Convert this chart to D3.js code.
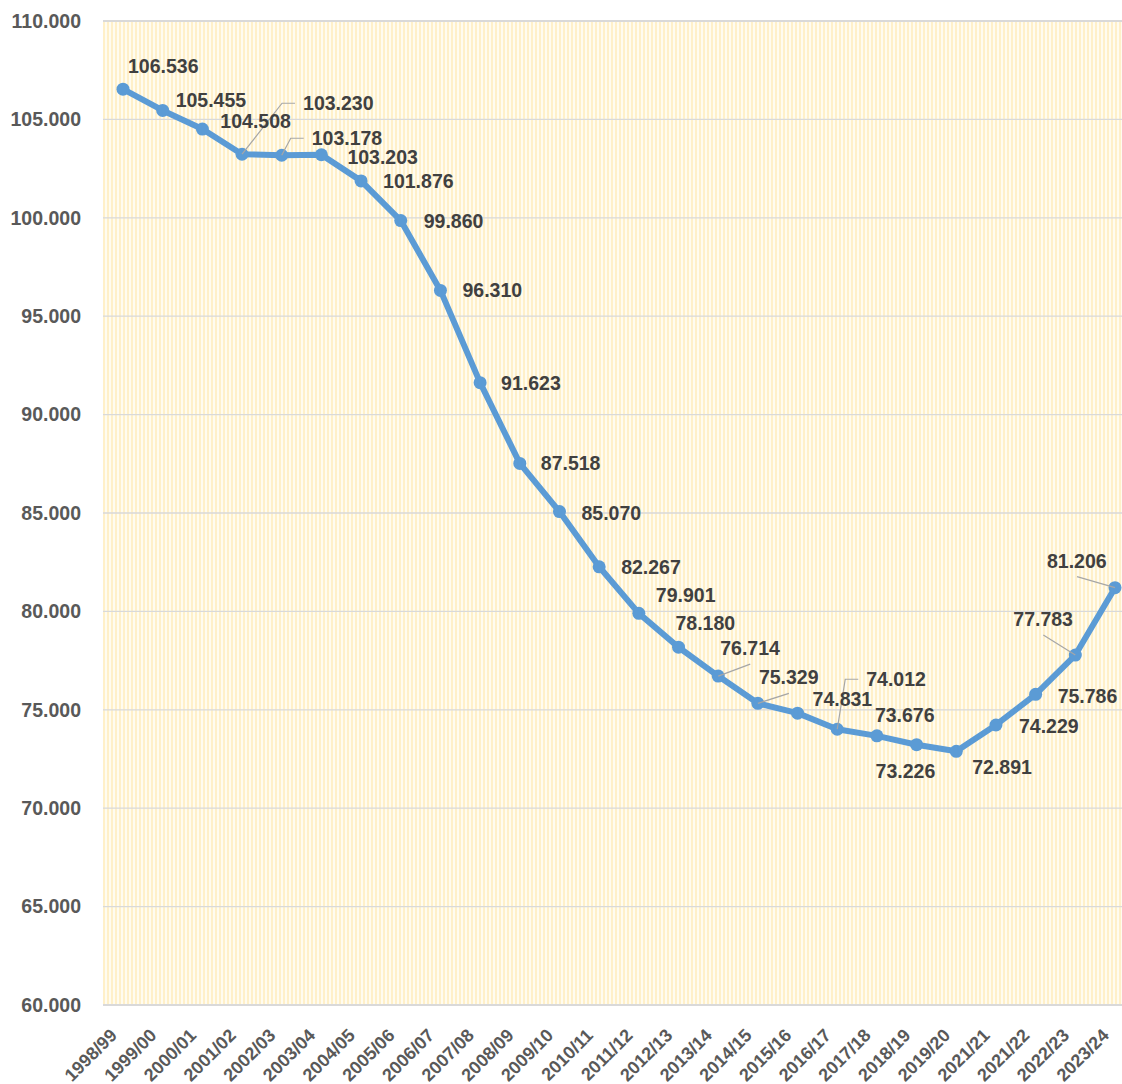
<!DOCTYPE html>
<html>
<head>
<meta charset="utf-8">
<script src="https://cdn.jsdelivr.net/npm/d3@7"></script>
<style>
  body { margin: 0; background: #fff; }
  text { font-family: "Liberation Sans", Arial, sans-serif; font-weight: bold; }
</style>
</head>
<body>
<div id="chart"></div>
<script>
// ------------------------------------------------------------------------ //
// DATA
// ------------------------------------------------------------------------ //

var seasons = ["1998/99","1999/00","2000/01","2001/02","2002/03","2003/04","2004/05",
  "2005/06","2006/07","2007/08","2008/09","2009/10","2010/11","2011/12","2012/13",
  "2013/14","2014/15","2015/16","2016/17","2017/18","2018/19","2019/20","2021/21",
  "2021/22","2022/23","2023/24"]

var values = [106.536, 105.455, 104.508, 103.230, 103.178, 103.203, 101.876, 99.860,
  96.310, 91.623, 87.518, 85.070, 82.267, 79.901, 78.180, 76.714, 75.329, 74.831,
  74.012, 73.676, 73.226, 72.891, 74.229, 75.786, 77.783, 81.206]

var yTicks = [60, 65, 70, 75, 80, 85, 90, 95, 100, 105, 110]

// label placement relative to each point: [dx, dy of baseline, leader type]
var labelPos = [
  [5,-16,null],[13,-3,null],[18,-1,null],[61,-44,"side"],[30,-10,"side"],
  [26,9,null],[22,7,null],[23,7,null],[22,7,null],[21,7,null],[21,7,null],
  [22,8,null],[22,7,null],[17,-11,null],[-3,-17,null],[2,-21,"below"],
  [1,-19,"below"],[15,-7,null],[29,-43,"side"],[-2,-14,null],[-41,33,null],
  [16,23,null],[23,8,null],[22,9,null],[-62,-29,"below"],[-68,-20,"below"]
]

// ------------------------------------------------------------------------ //
// SVG AREA
// ------------------------------------------------------------------------ //

var width = 1122, height = 1084
var plot = {left: 103, right: 1122, top: 21, bottom: 1005}

var svg = d3.select("#chart")
  .append("svg")
    .attr("width", width)
    .attr("height", height)

// striped background
var defs = svg.append("defs")
var pat = defs.append("pattern")
    .attr("id", "stripes")
    .attr("patternUnits", "userSpaceOnUse")
    .attr("x", plot.left)
    .attr("width", 4)
    .attr("height", 10)
pat.append("rect").attr("width", 4).attr("height", 10).attr("fill", "#fffcf0")
pat.append("rect").attr("width", 2).attr("height", 10).attr("fill", "#fff0c9")

svg.append("rect")
    .attr("x", plot.left)
    .attr("y", plot.top)
    .attr("width", plot.right - plot.left)
    .attr("height", plot.bottom - plot.top)
    .attr("fill", "url(#stripes)")

// ------------------------------------------------------------------------ //
// AXIS AND SCALE
// ------------------------------------------------------------------------ //

var x = d3.scalePoint()
    .domain(seasons)
    .range([123, 1115])

var y = d3.scaleLinear()
    .domain([60, 110])
    .range([plot.bottom, plot.top])

// gridlines
svg.append("g")
  .selectAll("line")
  .data(yTicks)
  .enter()
  .append("line")
    .attr("x1", plot.left)
    .attr("x2", plot.right)
    .attr("y1", function(d){ return y(d) })
    .attr("y2", function(d){ return y(d) })
    .style("stroke", "#d9d9d9")
    .style("stroke-width", function(d){ return (d == 60 || d == 110) ? 2 : 1.3 })

// Y axis
var yAxis = svg.append("g")
    .attr("transform", "translate(" + plot.left + ",0)")
    .call(d3.axisLeft(y).tickValues(yTicks).tickFormat(d3.format(".3f")).tickSize(0).tickPadding(22))
yAxis.select(".domain").remove()
yAxis.selectAll("text")
    .attr("fill", "#595959")
    .attr("font-size", "19.5px")
    .attr("font-family", "Liberation Sans, Arial, sans-serif")
    .attr("font-weight", "bold")

// X axis
var xAxis = svg.append("g")
    .attr("transform", "translate(0," + plot.bottom + ")")
    .call(d3.axisBottom(x).tickSize(0))
xAxis.select(".domain").remove()
xAxis.selectAll("text")
    .attr("fill", "#595959")
    .attr("font-size", "18px")
    .attr("font-family", "Liberation Sans, Arial, sans-serif")
    .attr("font-weight", "bold")
    .attr("text-anchor", "end")
    .attr("dy", "0.35em")
    .attr("y", 0)
    .attr("transform", "translate(-10,27) rotate(-45)")

// ------------------------------------------------------------------------ //
// LINE AND DOTS
// ------------------------------------------------------------------------ //

var pts = seasons.map(function(s, i){ return {s: s, v: values[i], i: i} })

svg.append("path")
    .datum(pts)
    .attr("fill", "none")
    .attr("stroke", "#5b9bd5")
    .attr("stroke-width", 6)
    .attr("stroke-linejoin", "round")
    .attr("d", d3.line()
      .x(function(d){ return x(d.s) })
      .y(function(d){ return y(d.v) }))

svg.selectAll(".dot")
  .data(pts)
  .enter()
  .append("circle")
    .attr("class", "dot")
    .attr("cx", function(d){ return x(d.s) })
    .attr("cy", function(d){ return y(d.v) })
    .attr("r", 6.5)
    .attr("fill", "#5b9bd5")

// ------------------------------------------------------------------------ //
// LABELS
// ------------------------------------------------------------------------ //

var fmt = d3.format(".3f")

// leader lines
svg.selectAll(".leader")
  .data(pts.filter(function(d){ return labelPos[d.i][2] }))
  .enter()
  .append("polyline")
    .attr("class", "leader")
    .attr("fill", "none")
    .attr("stroke", "#a6a6a6")
    .attr("stroke-width", 1.2)
    .attr("points", function(d){
      var px = x(d.s), py = y(d.v)
      var lx = px + labelPos[d.i][0], ly = py + labelPos[d.i][1]
      if (labelPos[d.i][2] == "side") {
        var my = ly - 7
        return [[px, py], [lx - 21, my], [lx - 8, my]].join(" ")
      }
      return [[px, py], [lx + 30, ly + 9]].join(" ")
    })

svg.selectAll(".lbl")
  .data(pts)
  .enter()
  .append("text")
    .attr("class", "lbl")
    .attr("x", function(d){ return x(d.s) + labelPos[d.i][0] })
    .attr("y", function(d){ return y(d.v) + labelPos[d.i][1] })
    .attr("fill", "#404040")
    .attr("font-size", "19.5px")
    .text(function(d){ return fmt(d.v) })
</script>
</body>
</html>
